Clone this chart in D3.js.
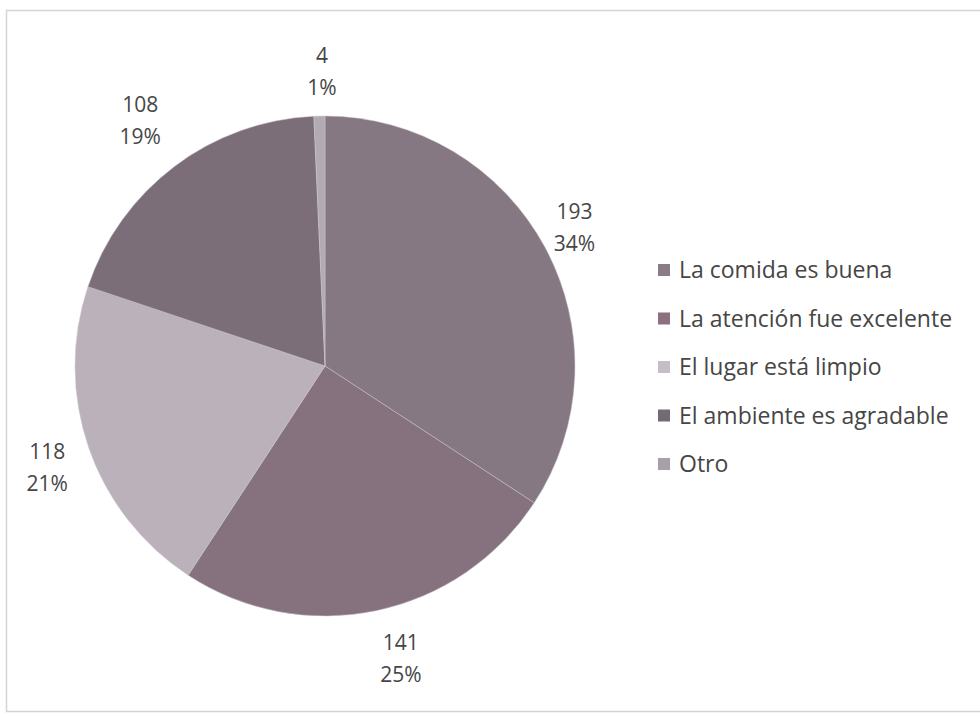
<!DOCTYPE html>
<html>
<head>
<meta charset="utf-8">
<script src="https://cdn.jsdelivr.net/npm/d3@7"></script>
<style>
  html, body { margin: 0; padding: 0; background: #ffffff; }
  svg { display: block; }
  text { font-family: "Open Sans", "Noto Sans", sans-serif; fill: #464646; }
</style>
</head>
<body>
<svg id="chart" width="980" height="717"></svg>
<script>
// Respuestas de la encuesta
const categories = [
  "La comida es buena",
  "La atención fue excelente",
  "El lugar está limpio",
  "El ambiente es agradable",
  "Otro"
];
const counts = [193, 141, 118, 108, 4];
const percentLabels = ["34%", "25%", "21%", "19%", "1%"];
const sliceColors = ["#867882", "#86717e", "#bab1bb", "#7b6e78", "#b3abb3"];
const legendColors = ["#8a7c87", "#8d6f80", "#c6bec6", "#746b72", "#a8a0a7"];

const svg = d3.select("#chart");

// chart frame
svg.append("rect")
  .attr("x", 6.5).attr("y", 10.5)
  .attr("width", 980).attr("height", 701)
  .attr("fill", "none")
  .attr("stroke", "#d4d4d4")
  .attr("stroke-width", 1.5);

const cx = 325, cy = 366, radius = 250;

const pie = d3.pie().sort(null).value(d => d.value);
const data = categories.map((c, i) => ({ name: c, value: counts[i], pct: percentLabels[i], i }));
const arcs = pie(data);

const arc = d3.arc().innerRadius(0).outerRadius(radius);
const labelArc = d3.arc().innerRadius(radius + 62).outerRadius(radius + 62);

const g = svg.append("g").attr("transform", `translate(${cx},${cy})`);

g.selectAll("path.slice")
  .data(arcs)
  .join("path")
  .attr("class", "slice")
  .attr("d", arc)
  .attr("fill", d => sliceColors[d.data.i])
  .attr("stroke", "#cbc4cb")
  .attr("stroke-width", 0.5);

// best-fit nudges for the outside labels, in slice order
const labelNudge = [
  { dx: -25, dy: 8 },
  { dx: 12, dy: -14 },
  { dx: 17, dy: -2 },
  { dx: 3, dy: 2 },
  { dx: 4, dy: 16 }
];
const labels = g.selectAll("g.lbl")
  .data(arcs)
  .join("g")
  .attr("class", "lbl")
  .attr("transform", d => {
    const [x, y] = labelArc.centroid(d);
    const n = labelNudge[d.data.i];
    return `translate(${x + n.dx},${y + n.dy})`;
  });

labels.append("text")
  .attr("text-anchor", "middle")
  .attr("y", -7)
  .attr("font-size", 21)
  .text(d => d.data.value);
labels.append("text")
  .attr("text-anchor", "middle")
  .attr("y", 25)
  .attr("font-size", 21)
  .text(d => d.data.pct);

// legend
const legend = svg.append("g").attr("transform", "translate(658,270)");
const rowStep = 48.5;
const rows = legend.selectAll("g.row")
  .data(categories)
  .join("g")
  .attr("class", "row")
  .attr("transform", (d, i) => `translate(0,${i * rowStep})`);
rows.append("rect")
  .attr("x", 0).attr("y", -6)
  .attr("width", 12).attr("height", 12)
  .attr("fill", (d, i) => legendColors[i]);
rows.append("text")
  .attr("x", 21)
  .attr("y", 8)
  .attr("font-size", 23)
  .text(d => d);
</script>
</body>
</html>
